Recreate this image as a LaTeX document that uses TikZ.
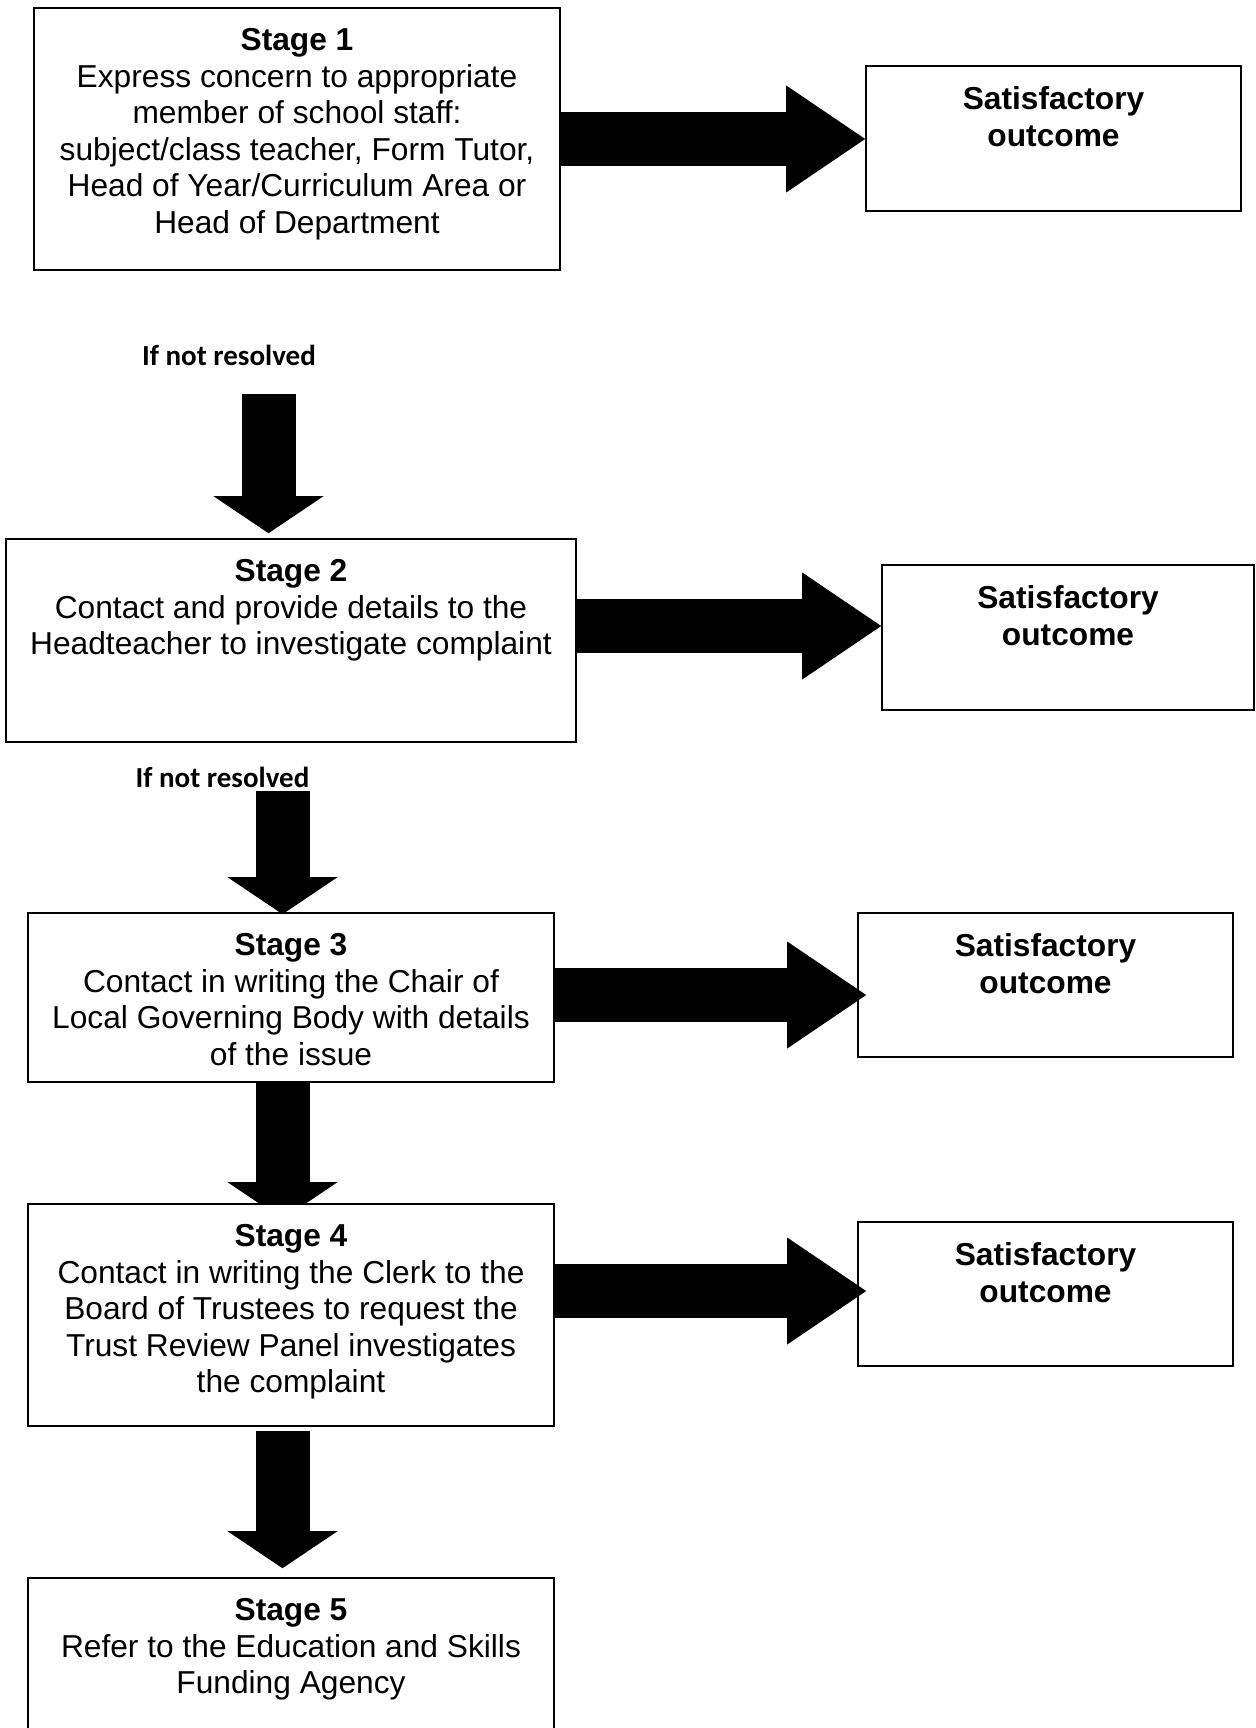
\documentclass[tikz,border=0pt]{standalone}
\usepackage{fontspec}
\setmainfont{Liberation Sans}
\newfontfamily\calibri{Carlito}
\usepackage{tikz}
\usetikzlibrary{arrows.meta,positioning,calc,backgrounds}

\newcommand{\boxfont}{\fontsize{15.85pt}{18.25pt}\selectfont}

\begin{document}
\begin{tikzpicture}[
    x=0.5pt, y=-0.5pt,
    stagebox/.style={rectangle, draw, line width=0.8pt, fill=white, inner sep=0pt, minimum width=263pt},
    okbox/.style={rectangle, draw, line width=0.8pt, fill=white, inner sep=0pt, minimum width=187.5pt, minimum height=72.5pt},
    boxtext/.style={anchor=north, yshift=-10.5pt, inner sep=0pt, align=center, font=\boxfont},
    oktext/.style={boxtext, font=\boxfont\bfseries},
    notres/.style={inner sep=0pt, font=\calibri\fontsize{14.5pt}{17pt}\selectfont\bfseries},
    rarrow/.style={line width=27pt, -{Triangle[length=39.5pt, width=53.5pt, line width=0pt]}},
    darrow/.style={line width=27pt, -{Triangle[length=18.5pt, width=55pt, line width=0pt]}}
]
\useasboundingbox (0,0) rectangle (1255,1728);
\clip (0,0) rectangle (1255,1728);

% Stage boxes
\node[stagebox, minimum height=131pt, label={[boxtext]north:{\textbf{Stage 1}\\Express concern to appropriate\\member of school staff:\\subject/class teacher, Form Tutor,\\Head of Year/Curriculum Area or\\Head of Department}}] (st1) at (297,139) {};
\node[stagebox, minimum width=285pt, minimum height=101.5pt, label={[boxtext]north:{\textbf{Stage 2}\\Contact and provide details to the\\Headteacher to investigate complaint}}] (st2) at (291,640.5) {};
\node[stagebox, minimum height=84.5pt, label={[boxtext]north:{\textbf{Stage 3}\\Contact in writing the Chair of\\Local Governing Body with details\\of the issue}}] (st3) at (291,997.5) {};
\node[stagebox, minimum height=111pt, label={[boxtext]north:{\textbf{Stage 4}\\Contact in writing the Clerk to the\\Board of Trustees to request the\\Trust Review Panel investigates\\the complaint}}] (st4) at (291,1315) {};
\node[stagebox, minimum height=91pt, label={[boxtext]north:{\textbf{Stage 5}\\Refer to the Education and Skills\\Funding Agency}}] (st5) at (291,1669) {};

% Outcome boxes
\node[okbox, label={[oktext]north:{Satisfactory\\outcome}}] (ok1) at (1053.5,138.5) {};
\node[okbox, minimum width=186pt, label={[oktext]north:{Satisfactory\\outcome}}] (ok2) at (1068,637.5) {};
\node[okbox, minimum height=72pt, label={[oktext]north:{Satisfactory\\outcome}}] (ok3) at (1045.5,985) {};
\node[okbox, minimum height=72pt, label={[oktext]north:{Satisfactory\\outcome}}] (ok4) at (1045.5,1294) {};

% If not resolved
\node[notres] (nr1) at (229,355) {If not resolved};
\node[notres] (nr2) at (222.5,777) {If not resolved};

% Right arrows
\coordinate (r2) at ([yshift=7.25pt]st2.east);
\coordinate (r3) at ([yshift=1.25pt]st3.east);
\coordinate (r4) at ([yshift=12pt]st4.east);
\draw[rarrow] (st1.east) -- (st1.east -| ok1.west);
\draw[rarrow] (r2) -- (r2 -| ok2.west);
\draw[rarrow, shorten >=-4.5pt] (r3) -- (r3 -| ok3.west);
\draw[rarrow, shorten >=-4.5pt] (r4) -- (r4 -| ok4.west);

% Down arrows
\coordinate (d1) at (268.5,394);
\coordinate (d2) at (282.5,791);
\coordinate (d3) at (st3.south -| d2);
\coordinate (d4) at (st4.south -| d2);
\draw[darrow, shorten >=2.5pt] (d1) -- (d1 |- st2.north);
\draw[darrow, shorten >=-1pt] (d2) -- (d2 |- st3.north);
\begin{pgfonlayer}{background}
\draw[darrow, shorten >=-8pt] (d3) -- (d3 |- st4.north);
\end{pgfonlayer}
\draw[darrow, shorten <=2pt, shorten >=4.5pt] (d4) -- (d4 |- st5.north);

\end{tikzpicture}
\end{document}
